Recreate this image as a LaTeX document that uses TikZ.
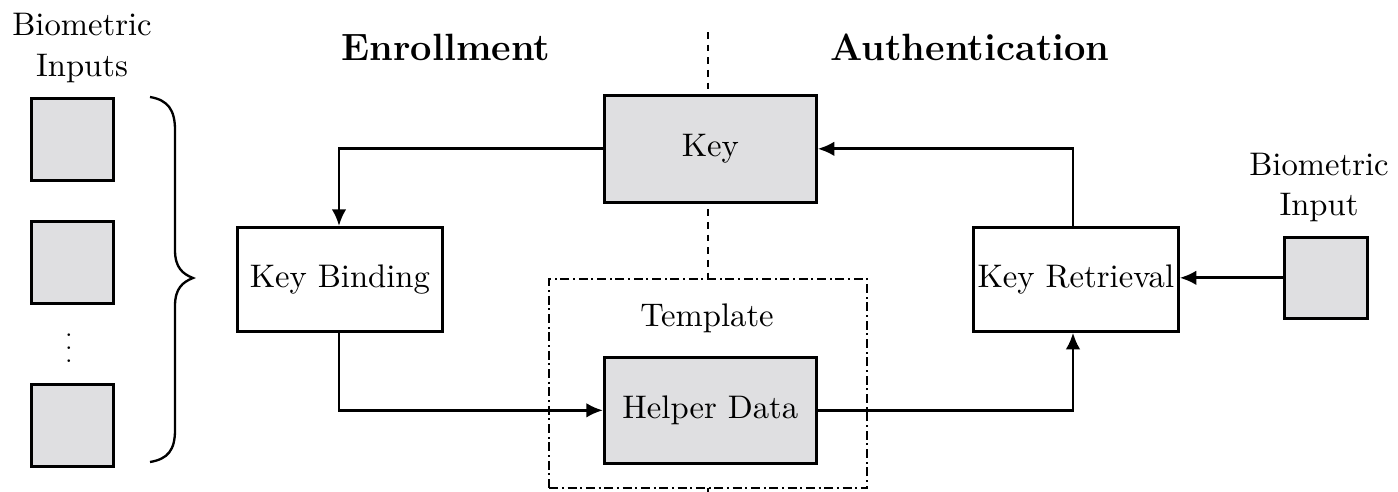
\documentclass[tikz,border=0pt]{standalone}
\usetikzlibrary{arrows.meta}
\definecolor{boxgray}{RGB}{223,223,225}
\begin{document}
\begin{tikzpicture}[x=0.3pt,y=-0.3pt,
  blk/.style={draw,line width=0.8pt,inner sep=0pt,anchor=north west},
  graybox/.style={blk,fill=boxgray},
  whitebox/.style={blk,fill=white},
  conn/.style={line width=0.85pt,-{Latex[length=5pt,width=4.4pt]}},
  lbl/.style={font=\fontsize{9.8}{12.4}\selectfont,align=center},
  head/.style={font=\fontsize{11.4}{13}\selectfont\bfseries}]
\useasboundingbox (0,0) rectangle (1398,492);

% separating line between the two phases
\draw[line width=0.6pt,dash pattern=on 2pt off 1.8pt] (708,32) -- (708,492);

% headings
\node[head] (enr) at (446,47) {Enrollment};
\node[head] (auth) at (970,47) {Authentication};

% enrollment inputs
\node[lbl] (binl) at (82,48) {Biometric\\Inputs};
\node[graybox,minimum width=24.6pt,minimum height=24.6pt] (in1) at (30,97) {};
\node[graybox,minimum width=24.6pt,minimum height=24.6pt] (in2) at (30,220) {};
\node[graybox,minimum width=24.6pt,minimum height=24.6pt] (in3) at (30,383) {};
\node[lbl,font=\fontsize{7}{8}\selectfont] (dots) at (69,338) {$\vdots$};
\draw[line width=0.7pt] (150,97) .. controls (168,100) and (175,110) .. (175,130)
  -- (175,250) .. controls (175,268) and (183,274) .. (193,278)
  .. controls (183,282) and (175,288) .. (175,306)
  -- (175,430) .. controls (175,450) and (168,459) .. (150,462);

% template
\node[whitebox,dash pattern=on 2.7pt off 1.1pt on 0.6pt off 1.1pt,line width=0.7pt,
  minimum width=95.4pt,minimum height=62.7pt] (tpl) at (548,278) {};
\node[lbl] (tpltxt) at (707,318) {Template};

% processing blocks
\node[graybox,minimum width=63.6pt,minimum height=32.1pt,lbl] (key) at (603,94) {Key};
\node[graybox,minimum width=63.6pt,minimum height=31.8pt,lbl] (help) at (603,356) {Helper Data};
\node[whitebox,minimum width=61.5pt,minimum height=31.2pt,lbl] (bind) at (236,226) {Key Binding};
\node[whitebox,minimum width=61.5pt,minimum height=31.2pt,lbl] (retr) at (972,226) {Key Retrieval};

% authentication input
\node[lbl,font=\fontsize{9.8}{12}\selectfont] (binr) at (1319,188) {Biometric\\Input};
\node[graybox,minimum width=24.9pt,minimum height=24.3pt] (inr) at (1283,236) {};

% connectors
\draw[conn] (key.west) -| (bind.north -| 339,0);
\draw[conn] (bind.south -| 339,0) |- (help.west);
\draw[conn] (help.east) -| (retr.south -| 1073,0);
\draw[conn] (retr.north -| 1073,0) |- (key.east);
\draw[conn] (inr.west) -- (retr.east |- inr.west);
\end{tikzpicture}
\end{document}
